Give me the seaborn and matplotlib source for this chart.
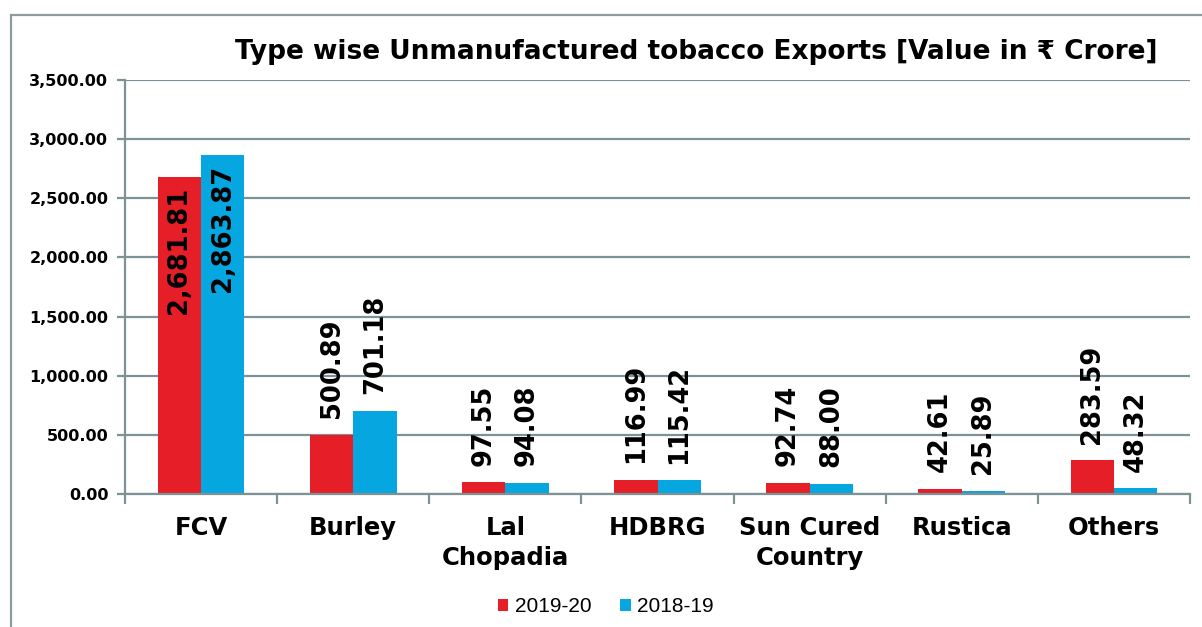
import matplotlib
matplotlib.use("Agg")
import matplotlib.pyplot as plt
import seaborn as sns
import pandas as pd
from matplotlib.patches import Rectangle
from matplotlib.ticker import FuncFormatter, FixedLocator

categories = ["FCV", "Burley", "Lal\nChopadia", "HDBRG", "Sun Cured\nCountry", "Rustica", "Others"]
series_names = ["2019-20", "2018-19"]
values_2019_20 = [2681.81, 500.89, 97.55, 116.99, 92.74, 42.61, 283.59]
values_2018_19 = [2863.87, 701.18, 94.08, 115.42, 88.00, 25.89, 48.32]
yticks = [0, 500, 1000, 1500, 2000, 2500, 3000, 3500]
title = "Type wise Unmanufactured tobacco Exports [Value in \u20b9 Crore]"

colors = ["#E61E28", "#06A6E1"]
grid_c = "#7D9294"

df = pd.DataFrame({
    "category": categories * 2,
    "series": [series_names[0]] * len(categories) + [series_names[1]] * len(categories),
    "value": values_2019_20 + values_2018_19,
})

sns.set_theme(style="white")
plt.rcParams["font.family"] = ["DejaVu Sans"]
plt.rcParams["text.color"] = "black"
plt.rcParams["xtick.color"] = "black"
plt.rcParams["ytick.color"] = "black"

fig = plt.figure(figsize=(12.02, 6.27), dpi=100)
ax = fig.add_axes([125 / 1202, 1 - 494 / 627, (1190 - 125) / 1202, (494 - 80) / 627])

sns.barplot(data=df, x="category", y="value", hue="series", order=categories,
            hue_order=series_names, palette=colors, width=0.57, saturation=1,
            ax=ax, legend=True, edgecolor="none", linewidth=0)

ax.set_xlim(-0.5, len(categories) - 0.5)
ax.set_ylim(0, 3500)
ax.set_yticks(yticks)
ax.yaxis.set_major_formatter(FuncFormatter(lambda v, p: f"{v:,.2f}"))
ax.grid(axis="y", color=grid_c, linewidth=1.6)
ax.set_axisbelow(True)
ax.set_xlabel("")
ax.set_ylabel("")

for side in ["top", "right"]:
    ax.spines[side].set_visible(False)
for side in ["left", "bottom"]:
    ax.spines[side].set_color(grid_c)
    ax.spines[side].set_linewidth(1.6)

ax.tick_params(axis="y", which="major", length=6, width=1.6, color=grid_c, left=True,
               labelsize=11.5, pad=6, labelcolor="black")
for t in ax.get_yticklabels():
    t.set_fontweight("bold")
ax.tick_params(axis="x", which="major", length=0, labelsize=17.5, pad=16, labelcolor="black")
for t in ax.get_xticklabels():
    t.set_fontweight("bold")
    t.set_linespacing(1.3)
ax.xaxis.set_minor_locator(FixedLocator([i - 0.5 for i in range(len(categories) + 1)]))
ax.tick_params(axis="x", which="minor", length=7, width=1.6, color=grid_c, bottom=True,
               direction="out")

# value labels
for container, vals in zip(ax.containers, [values_2019_20, values_2018_19]):
    for bar, v in zip(container, vals):
        x = bar.get_x() + bar.get_width() / 2
        txt = f"{v:,.2f}"
        if v > 2000:
            ax.annotate(txt, (x, v), xytext=(0, -7), textcoords="offset points",
                        rotation=90, ha="center", va="top", fontsize=18.5,
                        fontweight="bold", color="black")
        else:
            ax.annotate(txt, (x, v), xytext=(0, 12), textcoords="offset points",
                        rotation=90, ha="center", va="bottom", fontsize=18.5,
                        fontweight="bold", color="black")

# legend
handles, labels = ax.get_legend_handles_labels()
ax.get_legend().remove()
fig.legend(handles, labels, loc="center", bbox_to_anchor=(0.504, 1 - 607 / 627), ncol=2,
           frameon=False, handlelength=0.5, handleheight=0.5, handletextpad=0.3,
           columnspacing=1.4, prop={"family": "Liberation Sans", "size": 15})

# title
fig.text(0.579, 1 - 52 / 627, title, ha="center", va="center", fontsize=19,
         fontweight="bold", color="black")

# outer border
fig.patches.append(Rectangle((11 / 1202, -0.2), 1.2, 1 - 15 / 627 + 0.2,
                             transform=fig.transFigure, fill=False,
                             edgecolor="#8C9C9E", linewidth=1.6))

fig.savefig("out.png", dpi=100)
